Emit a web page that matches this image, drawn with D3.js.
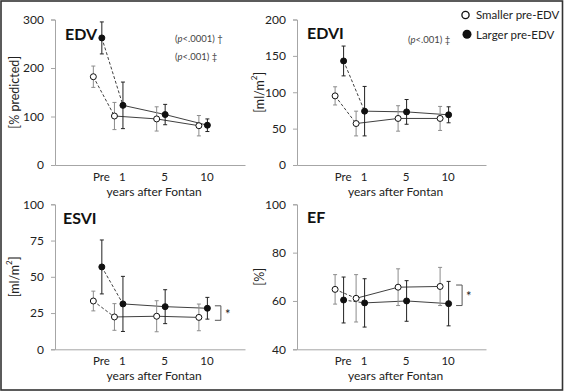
<!DOCTYPE html>
<html><head><meta charset="utf-8">
<script src="https://cdn.jsdelivr.net/npm/d3@7"></script>
<style>
html,body{margin:0;padding:0;background:#fff;}
svg{display:block;font-family:Lato,"Open Sans",sans-serif;}
</style></head>
<body><svg id="c" width="565" height="392"></svg>
<script>
// ---- data ----
const timepoints = ["Pre", "1", "5", "10"];
const timeIndex = [0.5, 1, 2, 3];           // ordinal position on the time axis
const seriesNames = ["Smaller pre-EDV", "Larger pre-EDV"];

const edvSmallMean = [182, 101, 95, 81];
const edvSmallSD   = [22, 28, 25, 21];
const edvLargeMean = [262, 123, 104, 82];
const edvLargeSD   = [33, 48, 21, 13];

const edviSmallMean = [95, 57, 64, 64];
const edviSmallSD   = [12.5, 17, 17.5, 16.5];
const edviLargeMean = [143, 74, 73, 69];
const edviLargeSD   = [20.5, 34, 17, 11];

const esviSmallMean = [33.3, 22.3, 22.8, 22];
const esviSmallSD   = [6.8, 9.2, 10.7, 9.2];
const esviLargeMean = [56.8, 31.3, 29.4, 28.3];
const esviLargeSD   = [18.6, 19, 11.7, 7.5];

const efSmallMean = [64.8, 61.1, 65.7, 66];
const efSmallSD   = [6.1, 9.8, 7.6, 7.9];
const efLargeMean = [60.4, 59.2, 60, 58.9];
const efLargeSD   = [9.5, 10, 8.4, 9.2];

const edvTicks  = [0, 100, 200, 300];
const edviTicks = [0, 50, 100, 150, 200];
const esviTicks = [0, 25, 50, 75, 100];
const efTicks   = [40, 60, 80, 100];

const edvNotes  = ["†(p<.0001)", "‡(p<.001)"];
const edviNotes = ["‡(p<.001)"];
const esviBracket = [30, 20];
const efBracket   = [66.6, 58.1];

// ---- layout ----
const svg = d3.select("#c");
svg.append("rect").attr("x", 1).attr("y", 1).attr("width", 561.5).attr("height", 389)
  .attr("fill", "none").attr("stroke", "#333").attr("stroke-width", 1.6);

const panels = [
  {title: "EDV", yLabel: "[% predicted]", sup: false, domain: [0, 300], ticks: edvTicks,
   sm: edvSmallMean, ss: edvSmallSD, lm: edvLargeMean, ls: edvLargeSD,
   left: 55, right: 245, top: 19.5, bottom: 165, titleX: 65, titleY: 39.5, yLabX: 14,
   notes: edvNotes, noteX: 175, noteY: [42, 60], bracket: null},
  {title: "EDVI", yLabel: "[ml/m", sup: true, domain: [0, 200], ticks: edviTicks,
   sm: edviSmallMean, ss: edviSmallSD, lm: edviLargeMean, ls: edviLargeSD,
   left: 297, right: 486, top: 19.5, bottom: 165, titleX: 307, titleY: 39, yLabX: 259,
   notes: edviNotes, noteX: 408, noteY: [43], bracket: null},
  {title: "ESVI", yLabel: "[ml/m", sup: true, domain: [0, 100], ticks: esviTicks,
   sm: esviSmallMean, ss: esviSmallSD, lm: esviLargeMean, ls: esviLargeSD,
   left: 55, right: 245, top: 204.3, bottom: 349.3, titleX: 63, titleY: 223.5, yLabX: 14,
   notes: [], bracket: esviBracket},
  {title: "EF", yLabel: "[%]", sup: false, domain: [40, 100], ticks: efTicks,
   sm: efSmallMean, ss: efSmallSD, lm: efLargeMean, ls: efLargeSD,
   left: 297, right: 486, top: 204.3, bottom: 349.3, titleX: 307, titleY: 222.5, yLabX: 259,
   notes: [], bracket: efBracket}
];

const axisColor = "#a6a6a6";
const lineColor = "#404040";

panels.forEach(p => {
  const g = svg.append("g");
  const x = d3.scaleLinear().domain([-0.55, 3.95]).range([p.left, p.right]);
  const y = d3.scaleLinear().domain(p.domain).range([p.bottom, p.top]);

  // y axis
  const yAxis = d3.axisLeft(y).tickValues(p.ticks).tickSize(4).tickPadding(7);
  const ya = g.append("g").attr("transform", `translate(${p.left},0)`).call(yAxis);
  ya.select(".domain").attr("stroke", axisColor);
  ya.selectAll(".tick line").attr("stroke", axisColor);
  ya.selectAll(".tick text").attr("fill", "#222").attr("font-size", 12)
    .attr("font-family", "Lato, sans-serif");

  // x axis
  const xAxis = d3.axisBottom(x).tickValues(timeIndex)
    .tickFormat((d, i) => timepoints[i]).tickSize(0).tickPadding(8);
  const xa = g.append("g").attr("transform", `translate(0,${p.bottom})`).call(xAxis);
  xa.select(".domain").attr("stroke", axisColor);
  xa.selectAll(".tick text").attr("fill", "#222").attr("font-size", 11.5)
    .attr("font-family", "Lato, sans-serif").attr("dx", 1.5);

  g.append("text").attr("x", (x(timeIndex[0]) + x(timeIndex[3])) / 2 + 2)
    .attr("y", p.bottom + 31).attr("text-anchor", "middle")
    .attr("font-size", 12).attr("fill", "#222").text("years after Fontan");

  // y label
  const yl = g.append("text")
    .attr("transform", `translate(${p.yLabX},${(p.top + p.bottom) / 2}) rotate(-90)`)
    .attr("text-anchor", "middle").attr("dominant-baseline", "central")
    .attr("font-size", 12.5).attr("fill", "#222");
  yl.append("tspan").text(p.yLabel);
  if (p.sup) {
    yl.append("tspan").attr("font-size", 8).attr("dy", -5).text("2");
    yl.append("tspan").attr("dy", 5).text("]");
  }

  // title
  g.append("text").attr("x", p.titleX).attr("y", p.titleY)
    .attr("font-size", 16).attr("font-weight", "bold").attr("fill", "#111").text(p.title);

  // notes
  p.notes.forEach((n, i) => {
    const mark = n[0], rest = n.slice(1);
    const t = g.append("text").attr("x", p.noteX).attr("y", p.noteY[i])
      .attr("font-size", 9.5).attr("fill", "#444");
    t.append("tspan").text("(");
    t.append("tspan").attr("font-style", "italic").text("p");
    t.append("tspan").text(rest.slice(2) + " " + mark);
  });

  const series = [
    {mean: p.sm, sd: p.ss, off: -6, fill: "#fff", err: "#8c8c8c"},
    {mean: p.lm, sd: p.ls, off: 2.5, fill: "#111", err: "#222"}
  ];
  const px = (s, i) => x(timeIndex[i]) + s.off;

  series.forEach(s => {
    // dashed segment Pre -> 1
    g.append("line").attr("x1", px(s, 0)).attr("y1", y(s.mean[0]))
      .attr("x2", px(s, 1)).attr("y2", y(s.mean[1]))
      .attr("stroke", lineColor).attr("stroke-width", 1).attr("stroke-dasharray", "3,2");
    // solid 1 -> 10
    const line = d3.line().x(i => px(s, i)).y(i => y(s.mean[i]));
    g.append("path").attr("d", line([1, 2, 3])).attr("fill", "none")
      .attr("stroke", lineColor).attr("stroke-width", 1);
  });

  series.forEach(s => {
    s.mean.forEach((m, i) => {
      const cx = px(s, i), hi = y(m + s.sd[i]), lo = y(m - s.sd[i]);
      g.append("line").attr("x1", cx).attr("x2", cx).attr("y1", hi).attr("y2", lo)
        .attr("stroke", s.err).attr("stroke-width", 1);
      [hi, lo].forEach(yy => g.append("line").attr("x1", cx - 2).attr("x2", cx + 2)
        .attr("y1", yy).attr("y2", yy).attr("stroke", s.err).attr("stroke-width", 1));
    });
  });

  series.forEach(s => {
    g.selectAll(null).data(s.mean).enter().append("circle")
      .attr("cx", (d, i) => px(s, i)).attr("cy", d => y(d)).attr("r", 3)
      .attr("fill", s.fill).attr("stroke", "#111").attr("stroke-width", 1);
  });

  if (p.bracket) {
    const bx1 = x(timeIndex[3]) + 10, bx2 = x(timeIndex[3]) + 16;
    const y1 = y(p.bracket[0]), y2 = y(p.bracket[1]);
    g.append("path").attr("d", `M${bx1},${y1}H${bx2}V${y2}H${bx1}`)
      .attr("fill", "none").attr("stroke", "#555").attr("stroke-width", 1);
    g.append("text").attr("x", bx2 + 4).attr("y", (y1 + y2) / 2 + 6)
      .attr("font-size", 13).attr("fill", "#222").text("*");
  }
});

// legend
const lg = svg.append("g");
lg.append("circle").attr("cx", 465.5).attr("cy", 15).attr("r", 3.6)
  .attr("fill", "#fff").attr("stroke", "#111").attr("stroke-width", 1.3);
lg.append("circle").attr("cx", 467).attr("cy", 34.3).attr("r", 4.5).attr("fill", "#111");
lg.append("text").attr("x", 476).attr("y", 19).attr("font-size", 11.5).attr("fill", "#222").text(seriesNames[0]);
lg.append("text").attr("x", 476).attr("y", 38.5).attr("font-size", 11.5).attr("fill", "#222").text(seriesNames[1]);
</script></body></html>
